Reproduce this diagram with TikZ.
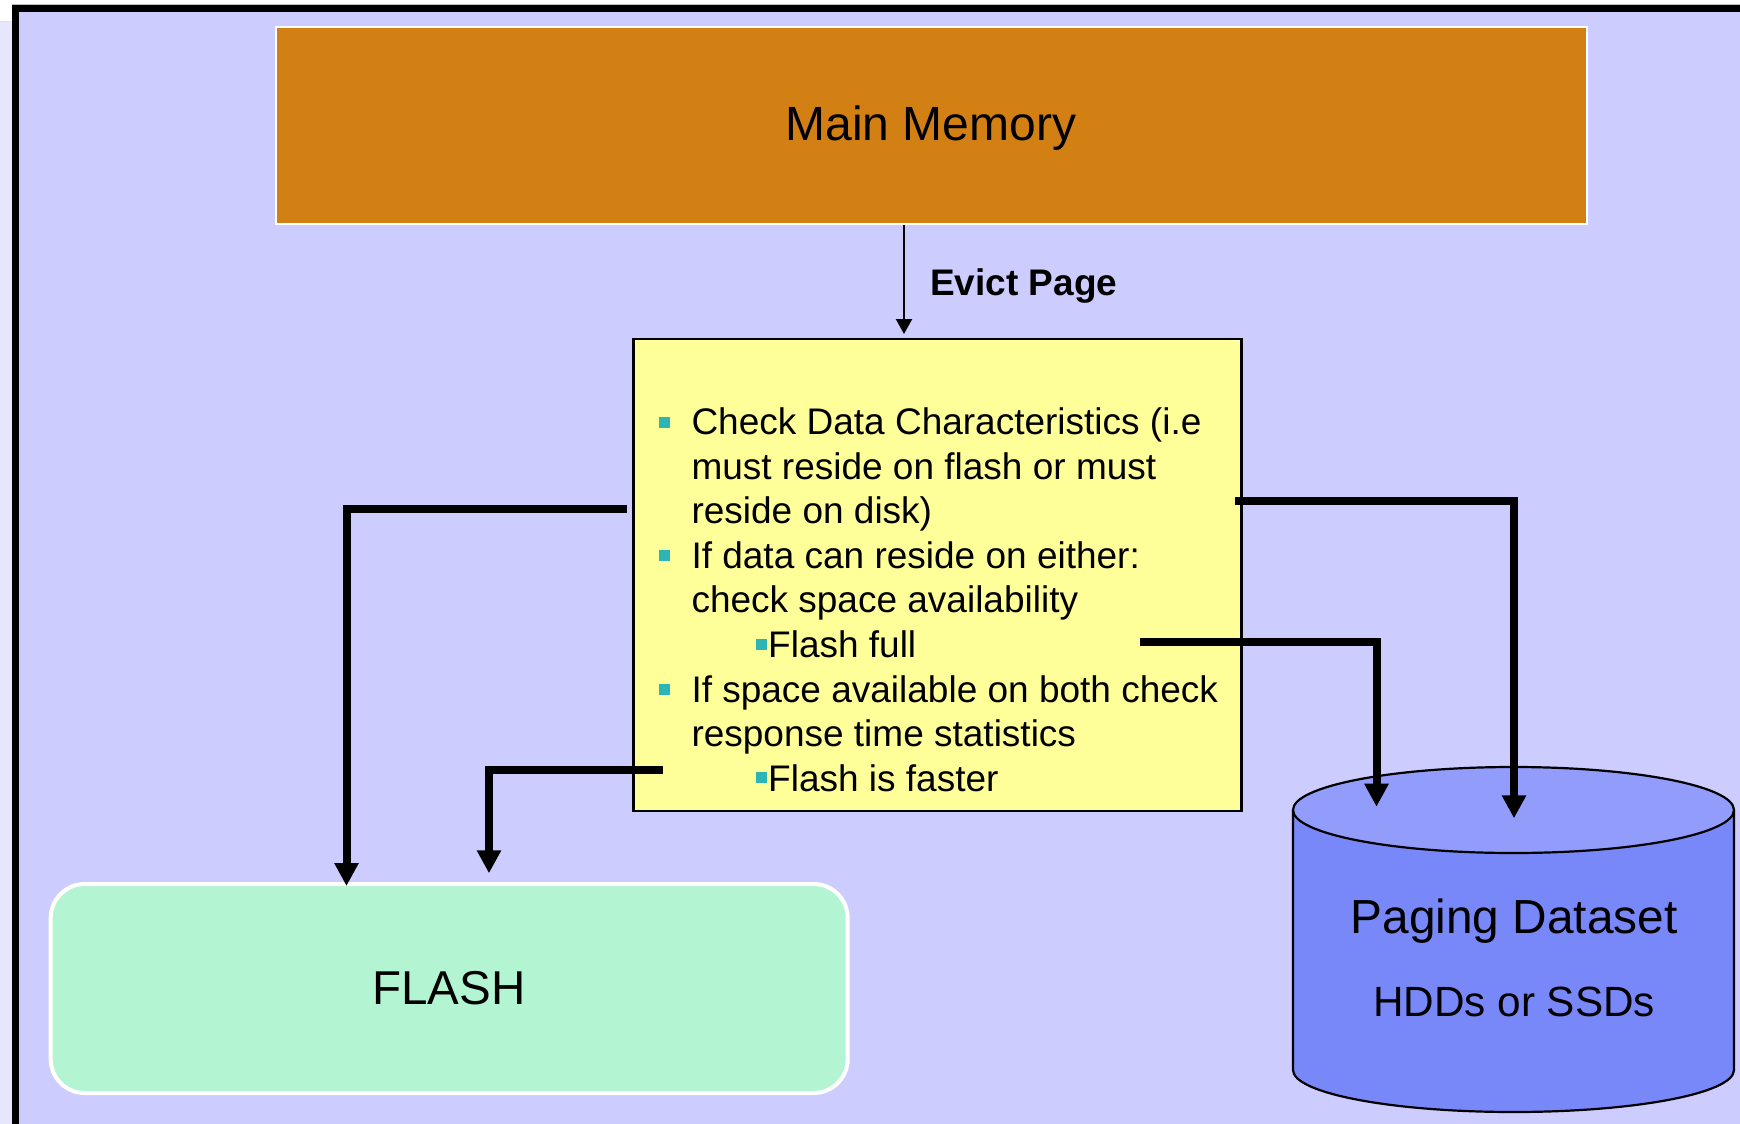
\documentclass[tikz,border=0pt]{standalone}
\usepackage{fontspec}
\setmainfont{Liberation Sans}
\usetikzlibrary{arrows.meta}
\definecolor{lav}{HTML}{CCCCFF}
\definecolor{lstrip}{HTML}{E6E6FF}
\definecolor{mmcol}{HTML}{D28013}
\definecolor{ycol}{HTML}{FFFF99}
\definecolor{flcol}{HTML}{B3F5D2}
\definecolor{cyltop}{HTML}{929CFA}
\definecolor{cylbody}{HTML}{7888F8}
\definecolor{bul}{HTML}{2CB5B5}
\newcommand{\mbul}{\textcolor{bul}{\rule[7pt]{11pt}{11pt}}}
\newcommand{\sbul}{\textcolor{bul}{\rule[8pt]{11pt}{11pt}}}
\begin{document}
\begin{tikzpicture}[x=1pt,y=-1pt,
  bigarrow/.style={line width=8pt,-{Triangle[width=23pt,length=23pt]},line join=miter},
  smallarrow/.style={line width=2.3pt,-{Triangle[width=16pt,length=15pt]}},
  bodytxt/.style={inner sep=0,anchor=base west,font=\fontsize{37pt}{44.6pt}\selectfont},
  bigtxt/.style={inner sep=0,anchor=base}]
\useasboundingbox (0,0) rectangle (1740,1124);
% frame
\fill[white] (0,0) rectangle (1740,1124);
\fill[lstrip] (0,22) rectangle (12,1124);
\draw[line width=1pt,color=black!12] (0,22) -- (12,22);
\draw[line width=1pt,color=black!25] (12,4.5) -- (1740,4.5);
\fill[black] (11.7,5) rectangle (1740,12.3);
\fill[black] (11.7,5) rectangle (19.3,1124);
\fill[lav] (19.3,12.3) rectangle (1740,1124);
% main memory
\node[draw=white,line width=2pt,fill=mmcol,minimum width=1311pt,minimum height=196pt,inner sep=0] (mm) at (931.5,125.5) {};
\node[bigtxt,font=\fontsize{48pt}{56pt}\selectfont] (mmt) at (931,140) {Main Memory};
% yellow decision box
\node[draw=black,line width=2.5pt,fill=ycol,minimum width=608pt,minimum height=472pt,inner sep=0] (chk) at (937.3,574.8) {};
\node[bodytxt] (t1) at (658.3,434.5) {\mbul\hspace{22pt}Check Data Characteristics (i.e};
\node[bodytxt] (t2) at (691.3,479.1) {must reside on flash or must};
\node[bodytxt] (t3) at (691.3,523.7) {reside on disk)};
\node[bodytxt] (t4) at (658.3,568.3) {\mbul\hspace{22pt}If data can reside on either:};
\node[bodytxt] (t5) at (691.3,612.9) {check space availability};
\node[bodytxt] (t6) at (756,657.5) {\sbul\hspace{1pt}Flash full};
\node[bodytxt] (t7) at (658.3,702.1) {\mbul\hspace{22pt}If space available on both check};
\node[bodytxt] (t8) at (691.3,746.7) {response time statistics};
\node[bodytxt] (t9) at (756,791.3) {\sbul\hspace{1pt}Flash is faster};
% evict label
\node[bodytxt,font=\bfseries\fontsize{37pt}{44pt}\selectfont] (ev) at (930,295) {Evict Page};
% flash
\node[draw=white,line width=4pt,fill=flcol,rounded corners=34pt,minimum width=797pt,minimum height=209pt,inner sep=0] (fl) at (449.2,988.5) {};
\node[bigtxt,font=\fontsize{47.5pt}{54pt}\selectfont] (flt) at (449,1004) {FLASH};
% paging dataset cylinder
\node[minimum width=441pt,minimum height=345pt,inner sep=0] (pd) at (1513.5,939.5) {};
\fill[cylbody] (1293,810) -- (1293,1070)
  .. controls (1293,1093.2) and (1391.5,1112) .. (1513.5,1112)
  .. controls (1635.5,1112) and (1734,1093.2) .. (1734,1070) -- (1734,810) -- cycle;
\draw[line width=2.2pt] (1293,810) -- (1293,1070)
  .. controls (1293,1093.2) and (1391.5,1112) .. (1513.5,1112)
  .. controls (1635.5,1112) and (1734,1093.2) .. (1734,1070) -- (1734,810);
\draw[line width=2.2pt,fill=cyltop] (1513.5,810) ellipse [x radius=220.5pt,y radius=43pt];
\node[bigtxt,font=\fontsize{47.8pt}{54pt}\selectfont] (pdt1) at (1514,933) {Paging Dataset};
\node[bigtxt,font=\fontsize{42.3pt}{48pt}\selectfont] (pdt2) at (1514,1016) {HDDs or SSDs};
% connector end points
\coordinate (e1) at (904,225);
\coordinate (e2) at (904,334);
\coordinate (s1) at (627,508.7);
\coordinate (f1) at (346.5,886);
\coordinate (s2) at (663,769.5);
\coordinate (f2) at (489,873.3);
\coordinate (s3) at (1235,501.2);
\coordinate (p2) at (1514,818.3);
\coordinate (s4) at (1140,641.7);
\coordinate (p1) at (1376.5,806.7);
% connectors
\draw[smallarrow] (e1) -- (e2);
\draw[bigarrow] (s1) -| (f1);
\draw[bigarrow] (s2) -| (f2);
\draw[bigarrow] (s3) -| (p2);
\draw[bigarrow] (s4) -| (p1);
\end{tikzpicture}
\end{document}
